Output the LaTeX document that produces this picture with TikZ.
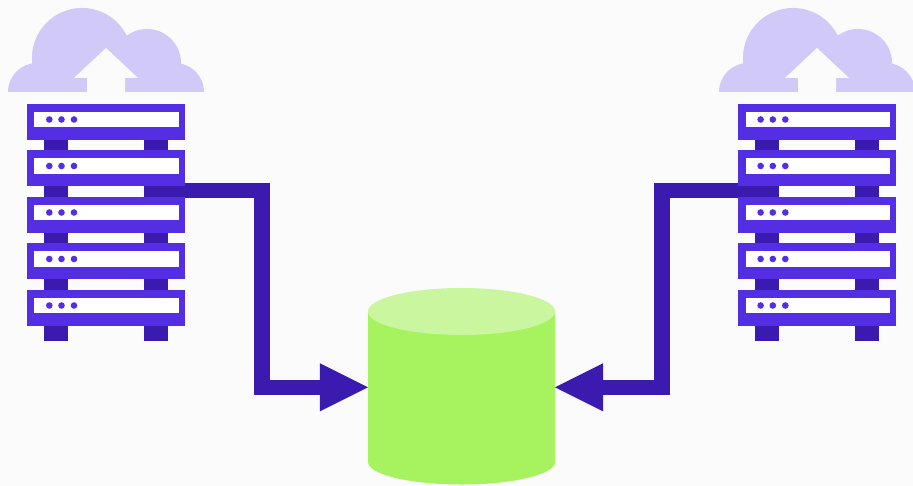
\documentclass[tikz,border=0pt]{standalone}
\usetikzlibrary{arrows.meta}
\definecolor{pagebg}{HTML}{FBFBFB}
\definecolor{rackcol}{HTML}{542EE3}
\definecolor{linkcol}{HTML}{3B1AB0}
\definecolor{cloudcol}{HTML}{D1CAF8}
\definecolor{dbbody}{HTML}{A6F25F}
\definecolor{dbtop}{HTML}{CAF69F}
\begin{document}
\begin{tikzpicture}[x=0.01cm, y=-0.01cm,
    link/.style={draw=linkcol, line width=0.155cm, -{Triangle[length=0.48cm, width=0.48cm, line width=0pt]}},
    dbframe/.style={inner sep=0pt, outer sep=0pt, minimum width=1.87cm, minimum height=1.965cm},
    server/.pic={
        \fill[linkcol] (17, 30) rectangle (41, 51);
        \fill[linkcol] (117, 30) rectangle (141, 51);
        \fill[rackcol] (0, 0) rectangle (158, 36);
        \fill[white] (7.3, 8) rectangle (151.5, 23.5);
        \fill[rackcol] (22.3, 15.5) circle[radius=0.033cm];
        \fill[rackcol] (34.5, 15.5) circle[radius=0.033cm];
        \fill[rackcol] (47, 15.5) circle[radius=0.033cm];
    },
    cloud/.pic={
        \begin{scope}
            \clip (0, 0) rectangle (220, 92);
            \fill[cloudcol] (37, 92) circle[radius=0.29cm];
            \fill[cloudcol] (175, 92) circle[radius=0.29cm];
            \fill[cloudcol] (82, 58) circle[radius=0.5cm];
            \fill[cloudcol] (147, 63) circle[radius=0.34cm];
            \fill[cloudcol] (37, 63) rectangle (175, 92);
        \end{scope}
        \fill[pagebg] (106, 48) -- (138, 78) -- (125, 78) -- (125, 92) -- (87, 92) -- (87, 78) -- (74, 78) -- cycle;
    }]
    \fill[pagebg] (0, 0) rectangle (913, 486);
    \useasboundingbox (0, 0) rectangle (913, 486);
    % database
    \node[dbframe] (db) at (461.5, 387.3) {};
    \fill[dbbody] (368, 311.5) -- (368, 462) arc[start angle=180, end angle=360, x radius=0.935cm, y radius=0.225cm] -- (555, 311.5) -- cycle;
    \fill[dbtop] (461.5, 311.5) ellipse[x radius=0.935cm, y radius=0.235cm];
    \coordinate (tapL) at (144, 190.7);
    \coordinate (tapR) at (779, 190.7);
    \coordinate (elbowL) at (262, 0 |- db.west);
    \coordinate (elbowR) at (662, 0 |- db.east);
    \draw[link] (tapL) -| (elbowL) -- (db.west);
    \draw[link] (tapR) -| (elbowR) -- (db.east);
    % left rack
    \pic (cloudL) at (0, 0) {cloud};
    \pic (srvLa) at (27, 104) {server};
    \pic (srvLb) at (27, 150.5) {server};
    \pic (srvLc) at (27, 197) {server};
    \pic (srvLd) at (27, 243.5) {server};
    \pic (srvLe) at (27, 290) {server};
    % right rack
    \pic (cloudR) at (711, 0) {cloud};
    \pic (srvRa) at (738.3, 104) {server};
    \pic (srvRb) at (738.3, 150.5) {server};
    \pic (srvRc) at (738.3, 197) {server};
    \pic (srvRd) at (738.3, 243.5) {server};
    \pic (srvRe) at (738.3, 290) {server};
\end{tikzpicture}
\end{document}
